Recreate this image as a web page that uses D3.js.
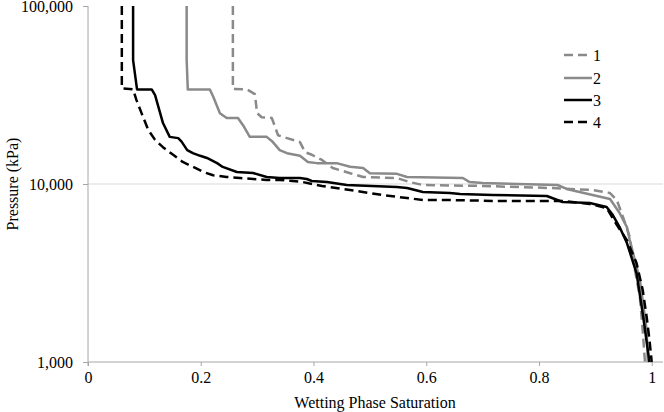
<!DOCTYPE html>
<html>
<head>
<meta charset="utf-8">
<script src="https://cdn.jsdelivr.net/npm/d3@7"></script>
<style>
  html, body { margin: 0; padding: 0; background: #fff; }
  svg text { font-family: "Liberation Serif", "Times New Roman", Times, "DejaVu Serif", serif !important; }
</style>
</head>
<body>
<svg id="chart" width="664" height="412"></svg>
<script>
// Series: [wetting phase saturation, pressure kPa]
const series1 = [[0.257,100000],[0.257,34200],[0.282,34000],[0.296,32000],[0.300,25000],[0.308,23700],[0.326,23500],[0.332,20900],[0.337,18800],[0.353,18100],[0.376,17200],[0.385,15100],[0.397,14600],[0.415,13650],[0.434,12300],[0.465,11500],[0.488,10950],[0.548,10800],[0.571,10250],[0.594,9870],[0.700,9750],[0.819,9500],[0.895,9250],[0.926,8900],[0.938,8130],[0.949,6530],[0.961,5040],[0.966,3890],[0.979,2320],[0.984,1510],[0.988,1000]];
const series2 = [[0.175,100000],[0.175,50000],[0.177,34000],[0.216,34000],[0.222,31000],[0.234,25000],[0.246,23500],[0.266,23500],[0.275,21400],[0.287,18400],[0.317,18400],[0.328,17200],[0.340,15500],[0.353,14900],[0.376,14400],[0.390,13300],[0.406,13100],[0.441,13100],[0.465,12500],[0.488,12300],[0.500,11500],[0.548,11400],[0.566,10950],[0.665,10800],[0.677,10250],[0.700,10130],[0.833,9870],[0.849,9380],[0.895,8670],[0.926,8240],[0.943,6870],[0.956,5730],[0.961,4840],[0.979,2890],[0.991,1510],[0.993,1000]];
const series3 = [[0.080,100000],[0.080,49700],[0.087,34000],[0.113,34000],[0.119,31600],[0.128,25000],[0.133,22000],[0.145,18400],[0.160,18100],[0.166,17300],[0.176,15500],[0.186,14900],[0.199,14400],[0.211,14000],[0.229,13100],[0.239,12470],[0.264,11680],[0.293,11530],[0.317,10950],[0.340,10810],[0.376,10810],[0.388,10670],[0.397,10400],[0.424,10260],[0.459,9870],[0.548,9620],[0.566,9500],[0.594,9020],[0.642,8890],[0.660,8780],[0.718,8670],[0.814,8560],[0.842,7920],[0.890,7820],[0.920,7430],[0.931,6690],[0.943,5730],[0.956,4660],[0.973,3160],[0.984,1880],[0.996,1000]];
const series4 = [[0.060,100000],[0.060,34500],[0.080,34000],[0.086,29600],[0.095,25000],[0.107,20100],[0.119,17700],[0.133,16100],[0.151,14600],[0.168,13300],[0.186,12500],[0.204,11700],[0.222,11200],[0.246,10950],[0.270,10800],[0.293,10670],[0.317,10530],[0.340,10530],[0.363,10400],[0.381,10260],[0.415,9750],[0.465,9250],[0.523,8670],[0.566,8340],[0.594,8130],[0.642,8130],[0.730,8020],[0.842,8020],[0.890,7720],[0.920,7330],[0.938,5890],[0.956,4840],[0.973,3600],[0.984,2540],[0.991,1790],[0.996,1330],[1.000,1000]];

const seriesNames = ["1", "2", "3", "4"];
const xTicks = [0, 0.2, 0.4, 0.6, 0.8, 1];
const yTicks = [1000, 10000, 100000];
const xTitle = "Wetting Phase Saturation";
const yTitle = "Pressure (kPa)";

const seriesStyle = [
  { data: series1, color: "#8a8a8a", dash: "9,5" },
  { data: series2, color: "#8a8a8a", dash: null },
  { data: series3, color: "#000000", dash: null },
  { data: series4, color: "#000000", dash: "9,5" }
];

const svg = d3.select("#chart");
const pL = 88, pR = 663, pT = 6, pB = 362;

const x = d3.scaleLinear().domain([0, 1.02]).range([pL, pR]);
const y = d3.scaleLog().domain([1000, 100000]).range([pB, pT]);

// gridline at 10,000
svg.append("line")
  .attr("x1", pL).attr("x2", pR)
  .attr("y1", y(10000)).attr("y2", y(10000))
  .attr("stroke", "#d9d9d9").attr("stroke-width", 1);

// Y axis
const yAxis = d3.axisLeft(y).tickValues(yTicks).tickSize(5).tickPadding(10)
  .tickFormat(d3.format(","));
const gy = svg.append("g").attr("transform", `translate(${pL},0)`).call(yAxis);
gy.select(".domain").attr("stroke", "#a6a6a6").attr("d", `M0,${pT}V${pB + 4}`);
gy.selectAll(".tick line").attr("stroke", "#a6a6a6");
gy.selectAll(".tick text").attr("font-size", 16).attr("fill", "#000").attr("dy", "0.36em");

// X axis
const xAxis = d3.axisBottom(x).tickValues(xTicks).tickSize(4).tickPadding(6)
  .tickFormat(d => d === 0 ? "0" : d === 1 ? "1" : d3.format(".1f")(d));
const gx = svg.append("g").attr("transform", `translate(0,${pB})`).call(xAxis);
gx.select(".domain").attr("stroke", "#a6a6a6").attr("d", `M${pL},0H${pR}`);
gx.selectAll(".tick line").attr("stroke", "#a6a6a6");
gx.selectAll(".tick text").attr("font-size", 16).attr("fill", "#000");

// clip
svg.append("clipPath").attr("id", "plotclip")
  .append("rect").attr("x", pL).attr("y", pT - 1).attr("width", pR - pL + 2).attr("height", pB - pT + 2);

const line = d3.line().x(d => x(d[0])).y(d => y(d[1]));
const lg = svg.append("g").attr("clip-path", "url(#plotclip)");
seriesStyle.forEach(s => {
  lg.append("path").datum(s.data)
    .attr("d", line)
    .attr("fill", "none")
    .attr("stroke", s.color)
    .attr("stroke-width", 2.5)
    .attr("stroke-linejoin", "round")
    .attr("stroke-dasharray", s.dash);
});

// legend
const legendY = [55, 78, 100, 122];
const leg = svg.append("g");
seriesStyle.forEach((s, i) => {
  leg.append("line")
    .attr("x1", 564).attr("x2", 592)
    .attr("y1", legendY[i]).attr("y2", legendY[i])
    .attr("stroke", s.color).attr("stroke-width", 2.5)
    .attr("stroke-dasharray", s.dash ? "9,5" : null);
  leg.append("text")
    .attr("x", 593).attr("y", legendY[i])
    .attr("dy", "0.35em")
    .attr("font-size", 16)
    .text(seriesNames[i]);
});

// axis titles
svg.append("text")
  .attr("x", 375).attr("y", 408)
  .attr("text-anchor", "middle").attr("font-size", 16)
  .text(xTitle);
svg.append("text")
  .attr("transform", `translate(18,184) rotate(-90)`)
  .attr("text-anchor", "middle").attr("font-size", 16)
  .text(yTitle);
</script>
</body>
</html>
